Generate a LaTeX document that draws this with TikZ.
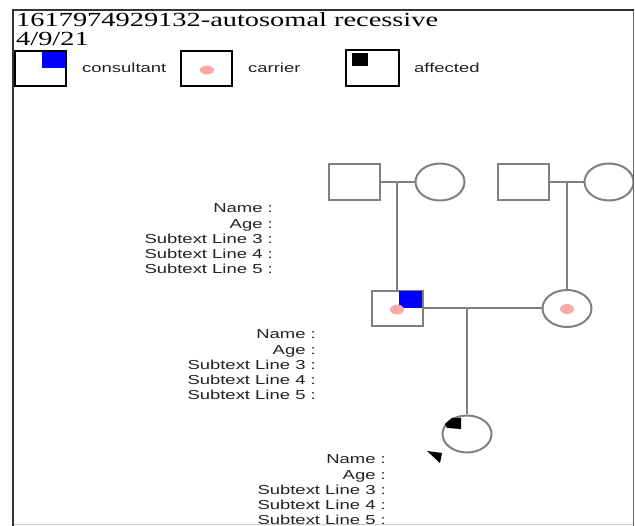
\documentclass[tikz,border=0pt]{standalone}
\usepackage{fontspec}
\setmainfont{Liberation Serif}
\newfontfamily\arialf{Liberation Sans}
\usetikzlibrary{shapes.geometric}
\definecolor{pedgray}{HTML}{808080}
\definecolor{carrierpink}{HTML}{F9A9A9}
\definecolor{consblue}{HTML}{0000FF}
\definecolor{labtext}{HTML}{222222}
\newcommand{\sx}[1]{\scalebox{1.42}[1]{#1}}
\tikzset{
  male/.style={draw=pedgray, line width=2pt, rectangle, minimum width=51pt, minimum height=36pt, inner sep=0pt},
  female/.style={draw=pedgray, line width=2pt, ellipse, minimum width=49pt, minimum height=37pt, inner sep=0pt},
  pedline/.style={draw=pedgray, line width=2pt},
  legbox/.style={draw=black, line width=2pt, rectangle, minimum width=51pt, minimum height=35pt, inner sep=0pt},
  legtext/.style={anchor=base west, inner sep=0pt, text=labtext, font=\arialf\fontsize{13}{15}\selectfont},
  labline/.style={anchor=base east, inner sep=0pt, text=labtext, font=\arialf\fontsize{13}{15}\selectfont},
  titletext/.style={anchor=base west, inner sep=0pt, text=black, font=\fontsize{20}{22}\selectfont},
}
\begin{document}
\begin{tikzpicture}[x=1pt,y=-1pt]
\useasboundingbox (0,0) rectangle (635,526);
\fill[white] (0,0) rectangle (635,526);

% title
\node[titletext] (title) at (16,27) {\sx{1617974929132-autosomal recessive}};
\node[titletext] (date) at (16,46) {\sx{4/9/21}};

% legend
\node[legbox] (lb1) at (40.5,68.5) {};
\fill[consblue] (42,52) rectangle (65,68);
\node[legtext] (lt1) at (82,73) {\sx{consultant}};
\node[legbox] (lb2) at (206.5,68.5) {};
\fill[carrierpink] (207,70) ellipse [x radius=7, y radius=4.5];
\node[legtext] (lt2) at (248,73) {\sx{carrier}};
\node[legbox, minimum width=53pt, minimum height=36pt] (lb3) at (372.5,68) {};
\fill[black] (352,53) rectangle (368,66);
\node[legtext] (lt3) at (414,73) {\sx{affected}};

\begin{scope}
\clip (13,10) rectangle (633,524);
% grandparents
\node[male] (gf1) at (354.5,182) {};
\node[female] (gm1) at (440,182) {};
\coordinate (m1) at (397,182);
\node[male] (gf2) at (523.5,182) {};
\node[female] (gm2) at (609,182) {};
\coordinate (m2) at (567,182);
% parents
\node[male, minimum height=35pt] (son) at (397,308.5) {};
\fill[consblue] (399,291) rectangle (422,308);
\fill[carrierpink] (397,309.5) ellipse [x radius=7, y radius=5];
\node[female] (wife) at (567,308.5) {};
\fill[carrierpink] (567,309) ellipse [x radius=7, y radius=5];
\coordinate (m3) at (467,308.5);
% child
\node[female] (dau) at (467,434) {};
\fill[black] (452,418) -- (461,418) -- (461,429) -- (447,428) -- (445,424) -- cycle;
\fill[black] (427,451) -- (442,453) -- (440,463) -- cycle;

\draw[pedline] (gf1.east) -- (gm1.west);
\draw[pedline] (gf2.east) -- (gm2.west);
\draw[pedline] (m1) -- (son.north);
\draw[pedline] (m2) -- (wife.north);
\draw[pedline] (son.east) -- (wife.west);
\draw[pedline] (m3) -- (dau.north);

% labels
\foreach \t [count=\i from 0] in {Name :,Age :,Subtext Line 3 :,Subtext Line 4 :,Subtext Line 5 :} {
  \node[labline] (la\i) at (273,213+15.2*\i) {\sx{\t}};
  \node[labline] (lb\i) at (316,339+15.2*\i) {\sx{\t}};
  \node[labline] (lc\i) at (386,464+15.2*\i) {\sx{\t}};
}
\end{scope}

% frame
\draw[line width=1pt, draw=black!60] (633,10) -- (633,526);
\draw[line width=1pt, draw=black!20] (13,524.5) -- (633,524.5);
\draw[line width=2pt, draw=black!80] (13,10) -- (634,10);
\draw[line width=2pt, draw=black!80] (13,9) -- (13,526);
\end{tikzpicture}
\end{document}
